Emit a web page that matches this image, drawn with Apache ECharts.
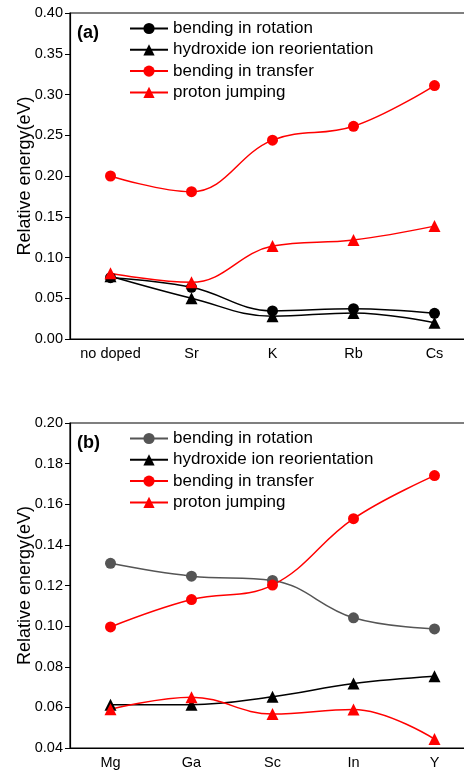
<html>
<head>
    <meta http-equiv="content-type" content="text/html; charset=utf-8">
    <title>Relative energy</title>
    <script src="https://cdn.jsdelivr.net/npm/echarts@6/dist/echarts.min.js"></script>
    <style>
        html, body { margin: 0; background: #fff; overflow: hidden; }
        .pane { width: 490px; height: 385px; }
    </style>
</head>

<body>
    <div id="chartA" class="pane"></div>
    <div id="chartB" class="pane"></div>
    <script type="text/javascript">
        // panel (a)
        var catsA = ["no doped", "Sr", "K", "Rb", "Cs"];
        var rotA = [0.0752, 0.0634, 0.0345, 0.0372, 0.0315];
        var hydA = [0.077, 0.050, 0.028, 0.032, 0.020];
        var transA = [0.200, 0.1807, 0.244, 0.261, 0.311];
        var protonA = [0.0806, 0.0695, 0.114, 0.1215, 0.1385];
        var ticksA = { min: 0, max: 0.4, interval: 0.05 };

        // panel (b)
        var catsB = ["Mg", "Ga", "Sc", "In", "Y"];
        var rotB = [0.1309, 0.1246, 0.1225, 0.1041, 0.0986];
        var hydB = [0.0613, 0.0613, 0.0652, 0.0717, 0.0753];
        var transB = [0.0996, 0.1131, 0.1202, 0.1529, 0.1741];
        var protonB = [0.0591, 0.065, 0.0567, 0.059, 0.0444];
        var ticksB = { min: 0.04, max: 0.2, interval: 0.02 };

        var names = ["bending in rotation", "hydroxide ion reorientation", "bending in transfer", "proton jumping"];
        var font = "Liberation Sans, Arial, sans-serif";

        function line(name, data, color, symbol) {
            return {
                name: name,
                type: "line",
                data: data,
                smooth: 0.4,
                symbol: symbol,
                symbolSize: symbol == "triangle" ? 12 : 11,
                showSymbol: true,
                lineStyle: { color: color, width: 1.5 },
                itemStyle: { color: color },
                z: 3
            };
        }

        function build(el, cats, ticks, series, tag, gridTop) {
            var chart = echarts.init(document.getElementById(el));
            chart.setOption({
                animation: false,
                textStyle: { fontFamily: font },
                grid: {
                    left: 70, top: gridTop, width: 405, height: 326,
                    show: true, borderColor: "#000", borderWidth: 1.2
                },
                title: {
                    text: tag, left: 77, top: gridTop + 11, padding: 0,
                    textStyle: { fontFamily: font, fontSize: 18, fontWeight: "bold", color: "#000" }
                },
                legend: {
                    orient: "vertical", left: 129, top: gridTop + 7, padding: 0,
                    itemWidth: 38, itemHeight: 14, itemGap: 4.3,
                    data: names,
                    textStyle: { fontFamily: font, fontSize: 17, color: "#000" }
                },
                xAxis: {
                    type: "category",
                    data: cats,
                    axisLine: { lineStyle: { color: "#000", width: 1.2 } },
                    axisTick: { alignWithLabel: true, length: 5, lineStyle: { color: "#000" } },
                    axisLabel: { interval: 0, margin: 7, fontSize: 14.5, color: "#000", fontFamily: font },
                    splitLine: { show: false }
                },
                yAxis: {
                    type: "value",
                    min: ticks.min, max: ticks.max, interval: ticks.interval,
                    name: "Relative energy(eV)",
                    nameLocation: "middle",
                    nameGap: 36,
                    nameMoveOverlap: false,
                    nameTextStyle: { fontSize: 18, color: "#000", fontFamily: font },
                    axisLine: { show: true, lineStyle: { color: "#000", width: 1.2 } },
                    axisTick: { show: true, length: 5, lineStyle: { color: "#000" } },
                    axisLabel: {
                        margin: 7, fontSize: 14.5, color: "#000", fontFamily: font,
                        formatter: function (v) { return v.toFixed(2); }
                    },
                    splitLine: { show: false }
                },
                series: series
            });
            return chart;
        }

        build("chartA", catsA, ticksA, [
            line(names[0], rotA, "#000", "circle"),
            line(names[1], hydA, "#000", "triangle"),
            line(names[2], transA, "#ff0000", "circle"),
            line(names[3], protonA, "#ff0000", "triangle")
        ], "(a)", 13);

        build("chartB", catsB, ticksB, [
            line(names[0], rotB, "#555555", "circle"),
            line(names[1], hydB, "#000", "triangle"),
            line(names[2], transB, "#ff0000", "circle"),
            line(names[3], protonB, "#ff0000", "triangle")
        ], "(b)", 38);
    </script>
</body>
</html>
